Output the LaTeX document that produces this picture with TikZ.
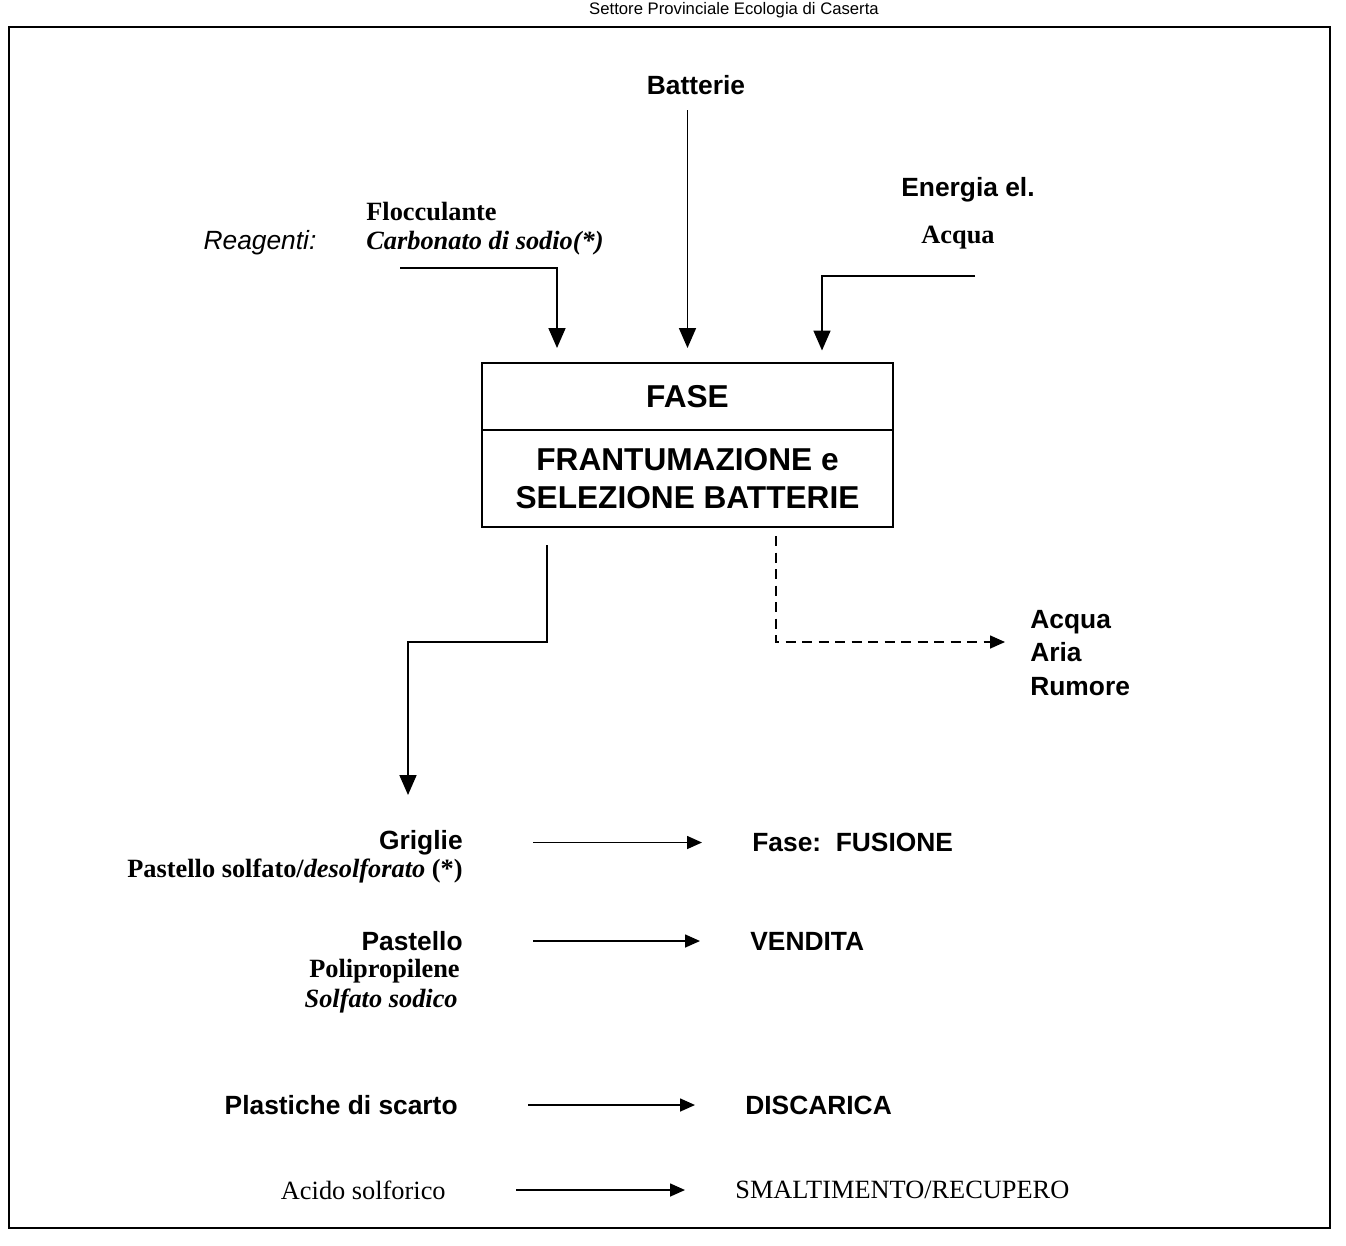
\documentclass[tikz,border=0pt]{standalone}
\usepackage{fontspec}
\setmainfont{Liberation Serif}
\setsansfont{Liberation Sans}
\usetikzlibrary{positioning,arrows.meta}

\tikzset{
  lbl/.style={inner sep=0pt, font=\sffamily\bfseries\fontsize{15}{19}\selectfont},
  tms/.style={inner sep=0pt, font=\rmfamily\bfseries\fontsize{15}{18}\selectfont},
  fasebox/.style={draw, line width=1pt, outer sep=0pt, minimum width=8.22cm,
    font=\sffamily\bfseries\fontsize{18}{21.6}\selectfont, align=center},
  flow/.style={->, line width=1pt},
  smalltip/.style={-{Triangle[length=3mm,width=2.6mm]}},
  outflow/.style={smalltip, line width=0.9pt, shorten <=1.4cm, shorten >=1.0cm},
}

\begin{document}
\begin{tikzpicture}[>={Triangle[length=4mm,width=3.4mm]}]
  \useasboundingbox (0,0) rectangle (26.92,-24.9);
  \draw[line width=1.1pt] (0.18,-0.54) rectangle (26.6,-24.56);
  \node[inner sep=0pt, font=\sffamily\fontsize{9.5}{11}\selectfont] (hdr) at (14.68,-0.2)
    {Settore Provinciale Ecologia di Caserta};

  % ingressi
  \node[lbl] (batt) at (13.92,-1.7) {Batterie};
  \node[inner sep=0pt, font=\sffamily\itshape\fontsize{15}{18}\selectfont] (reag) at (5.2,-4.86) {Reagenti:};
  \node[tms, anchor=west] (flocc) at (7.32,-4.24) {Flocculante};
  \node[tms, anchor=west] (carb) at (7.32,-4.86) {\itshape Carbonato di sodio(*)};
  \node[lbl] (energ) at (19.36,-3.8) {Energia el.};
  \node[tms] (acq) at (19.16,-4.76) {Acqua};

  % fase
  \node[fasebox, minimum height=1.34cm] (fase) at (13.75,-7.93) {FASE};
  \node[fasebox, minimum height=1.94cm, below=0pt of fase] (frant) {FRANTUMAZIONE e\\SELEZIONE BATTERIE};

  % emissioni
  \node[lbl, align=left, anchor=west] (emis) at (20.6,-13.06) {Acqua\\Aria\\Rumore};

  % uscite
  \node[lbl, anchor=east] (grig) at (9.26,-16.85) {Griglie};
  \node[tms, anchor=east] (psolf) at (9.26,-17.42) {Pastello solfato/\textit{desolforato} (*)};
  \node[lbl, anchor=west] (fus) at (15.04,-16.85) {Fase:\ \ FUSIONE};
  \node[lbl, anchor=east] (past) at (9.26,-18.82) {Pastello};
  \node[tms, anchor=east] (polip) at (9.2,-19.42) {Polipropilene};
  \node[tms, anchor=east] (solf) at (9.16,-20.02) {\itshape Solfato sodico};
  \node[lbl, anchor=west] (vend) at (15.0,-18.82) {VENDITA};
  \node[lbl, anchor=east] (plast) at (9.16,-22.1) {Plastiche di scarto};
  \node[lbl, anchor=west] (disc) at (14.9,-22.1) {DISCARICA};
  \node[tms, font=\rmfamily\fontsize{15}{18}\selectfont, anchor=east] (acido) at (8.92,-23.8) {Acido solforico};
  \node[tms, font=\rmfamily\fontsize{15}{18}\selectfont, anchor=west] (smalt) at (14.7,-23.8) {SMALTIMENTO/RECUPERO};

  % frecce
  \coordinate (rg) at (8.0,-5.36);
  \coordinate (en) at (19.5,-5.52);
  \coordinate (out) at (8.16,-15.9);
  \draw[flow, shorten <=0.3cm, shorten >=0.3cm] (batt.south -| fase.north) -- (fase.north);
  \draw[flow, shorten >=0.3cm] (rg) -| ([xshift=-2.61cm]fase.north);
  \draw[flow, shorten >=0.25cm] (en) -| ([xshift=2.69cm]fase.north);
  \draw[flow] ([xshift=-2.81cm,yshift=-0.36cm]frant.south) -- ++(0,-1.94) -| (out);
  \draw[smalltip, line width=0.9pt, dash pattern=on 2mm off 1.3mm]
    ([xshift=1.77cm,yshift=-0.18cm]frant.south) |- ([xshift=-0.5cm,yshift=0.22cm]emis.west);
  \draw[outflow] (grig) -- (fus);
  \draw[outflow] (past) -- (vend);
  \draw[outflow] (plast) -- (disc);
  \draw[outflow] (acido) -- (smalt);
\end{tikzpicture}
\end{document}
